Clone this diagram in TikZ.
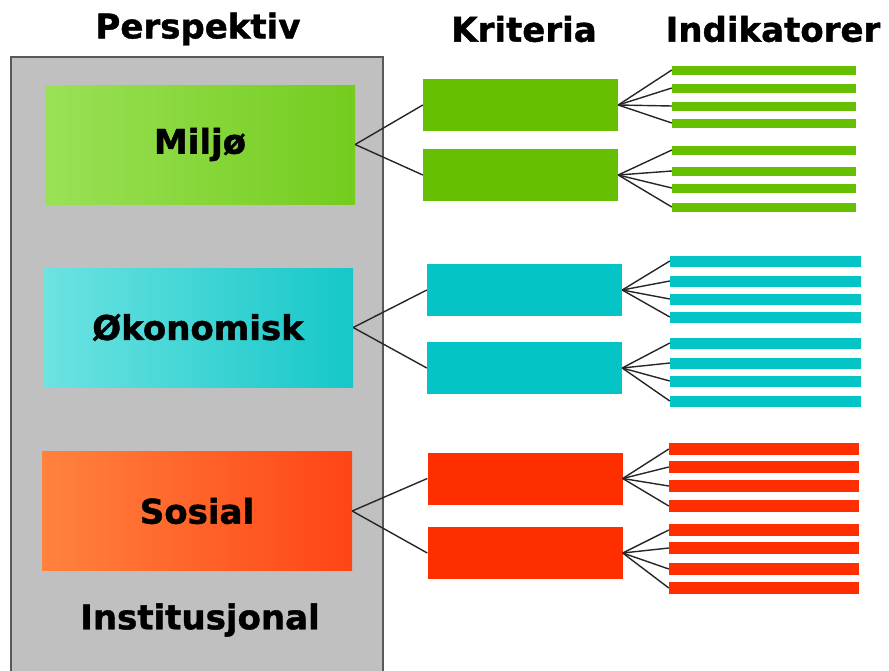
\documentclass[tikz,border=0pt]{standalone}
\usepackage{fontspec}
\setmainfont{DejaVu Sans}
\newfontfamily\heavyfont[BoldFeatures={FakeBold=1.2}]{DejaVu Sans}
\usetikzlibrary{shapes, arrows, calc, positioning}

\definecolor{boxgray}{HTML}{C0C0C0}
\definecolor{mgreen}{HTML}{66BF00}
\definecolor{mcyan}{HTML}{05C4C5}
\definecolor{mred}{HTML}{FF2E00}
\definecolor{lgreenA}{HTML}{9AE157}
\definecolor{lgreenB}{HTML}{74CC1E}
\definecolor{lcyanA}{HTML}{6CE3E1}
\definecolor{lcyanB}{HTML}{16C7C9}
\definecolor{lredA}{HTML}{FF823E}
\definecolor{lredB}{HTML}{FF4515}

\begin{document}
\begin{tikzpicture}[x=1pt, y=-1pt]
	\tikzstyle{title} = [font=\heavyfont\bfseries\fontsize{34}{40}\selectfont, inner sep=0pt]
	\tikzstyle{persp} = [title, minimum width=310pt, minimum height=119pt]
	\tikzstyle{krit} = [minimum width=195pt, minimum height=52pt, inner sep=0pt]
	\tikzstyle{ind} = [minimum width=188pt, minimum height=11pt, inner sep=0pt]
	\tikzstyle{link} = [black!85, line width=1.4pt]

	\useasboundingbox (0,0) rectangle (889,670);

	% overskrifter
	\node[title] (hp) at (198,29) {Perspektiv};
	\node[title] (hk) at (524,29) {Kriteria};
	\node[title] (hi) at (773,29) {Indikatorer};

	% institusjonal ramme
	\node[draw=black!65, line width=1.4pt, fill=boxgray, minimum width=372pt, minimum height=622pt, inner sep=0pt] (inst) at (197,368) {};
	\node[title] (instl) at (200,620) {Institusjonal};

	% perspektiver
	\node[persp, left color=lgreenA, right color=lgreenB] (milj) at (200,144.5) {Miljø};
	\node[persp, left color=lcyanA, right color=lcyanB] (okon) at (198,327.5) {Økonomisk};
	\node[persp, left color=lredA, right color=lredB] (sos) at (197,511) {Sosial};

	% kriterier
	\node[krit, fill=mgreen] (g1) at (520.5,105) {};
	\node[krit, fill=mgreen] (g2) at (520.5,175) {};
	\node[krit, fill=mcyan] (c1) at (524.5,290) {};
	\node[krit, fill=mcyan] (c2) at (524.5,368) {};
	\node[krit, fill=mred] (r1) at (525,478.5) {};
	\node[krit, fill=mred] (r2) at (525,553) {};

	\path[link]
		(milj.east) edge (g1.west)
		(milj.east) edge (g2.west)
		(okon.east) edge (c1.west)
		(okon.east) edge (c2.west)
		(sos.east) edge (r1.west)
		(sos.east) edge (r2.west)
	;

	% indikatorer
	\foreach \y [count=\i] in {70,88,106,123,150,171,188,207}
		\node[ind, fill=mgreen, minimum height=9pt, minimum width=184pt] (gi\i) at (764,\y) {};
	\foreach \y [count=\i] in {261,281,299,317,343,363,381,401}
		\node[ind, fill=mcyan, minimum width=191pt] (ci\i) at (765.5,\y) {};
	\foreach \y [count=\i] in {449,467,486,506,530,548,569,588}
		\node[ind, fill=mred, minimum height=12pt, minimum width=190pt] (ri\i) at (764,\y) {};

	\foreach \i in {1,...,4} {
		\draw[link] (g1.east) -- (gi\i.west);
		\draw[link] (c1.east) -- (ci\i.west);
		\draw[link] (r1.east) -- (ri\i.west);
	}
	\foreach \i in {5,...,8} {
		\draw[link] (g2.east) -- (gi\i.west);
		\draw[link] (c2.east) -- (ci\i.west);
		\draw[link] (r2.east) -- (ri\i.west);
	}
\end{tikzpicture}
\end{document}
